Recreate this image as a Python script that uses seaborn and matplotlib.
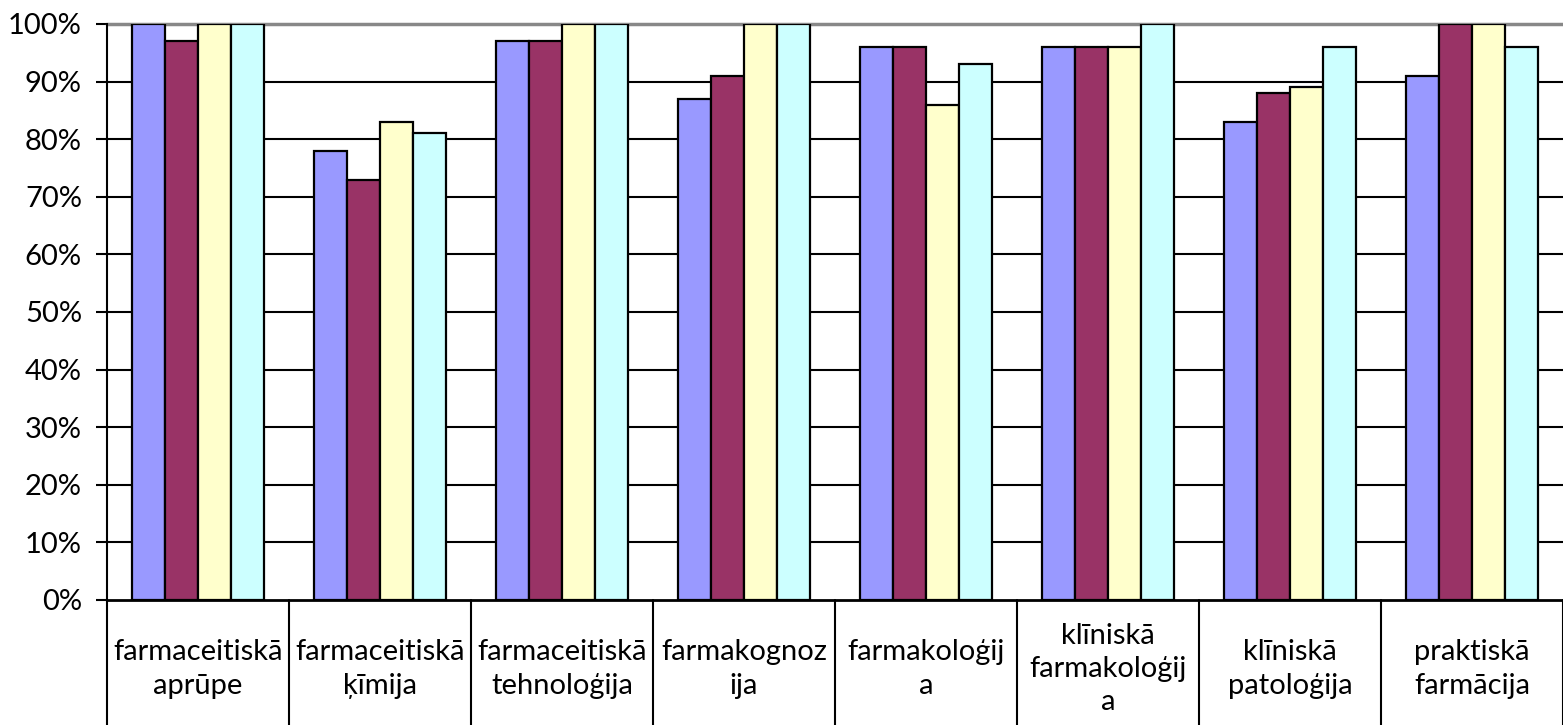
import matplotlib
matplotlib.use("Agg")
import matplotlib.pyplot as plt
import matplotlib.transforms as mtransforms
import seaborn as sns
import numpy as np
import pandas as pd

sns.set_theme(style="white")
plt.rcParams['font.family'] = ['Lato', 'DejaVu Sans']

# Dati
kategorijas = [
    "farmaceitiskā\naprūpe",
    "farmaceitiskā\nķīmija",
    "farmaceitiskā\ntehnoloģija",
    "farmakognoz\nija",
    "farmakoloģij\na",
    "klīniskā\nfarmakoloģij\na",
    "klīniskā\npatoloģija",
    "praktiskā\nfarmācija",
]
serijas = ["1", "2", "3", "4"]
s1 = [100, 78, 97, 87, 96, 96, 83, 91]
s2 = [97, 73, 97, 91, 96, 96, 88, 100]
s3 = [100, 83, 100, 100, 86, 96, 89, 100]
s4 = [100, 81, 100, 100, 93, 100, 96, 96]
krasas = ["#9999FF", "#993366", "#FFFFCC", "#CCFFFF"]

df = pd.DataFrame({
    "kategorija": np.tile(kategorijas, 4),
    "serija": np.repeat(serijas, len(kategorijas)),
    "vertiba": np.array(s1 + s2 + s3 + s4) / 100.0,
})

fig = plt.figure(figsize=(15.63, 7.25), dpi=100)
ax = fig.add_axes([107 / 1563, 125 / 725, 1 - 107 / 1563, 576 / 725])

sns.barplot(
    data=df, x="kategorija", y="vertiba", hue="serija",
    order=kategorijas, hue_order=serijas, palette=krasas, saturation=1,
    width=0.73, gap=0, edgecolor="black", linewidth=1.6,
    legend=False, ax=ax, zorder=3,
)

ax.set_ylim(0, 1)
ax.set_xlim(-0.5, len(kategorijas) - 0.5)
ax.set_yticks(np.arange(0, 1.01, 0.1))
ax.set_yticklabels([f"{int(round(v * 100))}%" for v in np.arange(0, 1.01, 0.1)])
ax.tick_params(axis="y", which="both", left=True, length=8, width=1.5,
               color="black", labelsize=21, pad=10, labelcolor="black")
ax.tick_params(axis="x", bottom=False, labelbottom=False)
ax.set_xlabel("")
ax.set_ylabel("")

# horizontālās režģa līnijas
for v in np.arange(0.1, 0.95, 0.1):
    ax.axhline(v, color="black", lw=1.5, zorder=1)
ax.axhline(1.0, color="#888888", lw=2.5, zorder=1, clip_on=False)

for side in ["top", "right"]:
    ax.spines[side].set_visible(False)
ax.spines["left"].set_color("black")
ax.spines["left"].set_linewidth(1.5)
ax.spines["bottom"].set_color("black")
ax.spines["bottom"].set_linewidth(2)

# kategoriju tabulas atdalītāji un teksti
trans = mtransforms.blended_transform_factory(ax.transData, ax.transAxes)
for i in range(len(kategorijas) + 1):
    ax.plot([i - 0.5, i - 0.5], [0, -0.3], transform=trans, color="black",
            lw=1.5, clip_on=False)
for i, nos in enumerate(kategorijas):
    ax.text(i, -0.12, nos, transform=trans, ha="center", va="center",
            fontsize=21, linespacing=1.35, color="black")

fig.savefig("out.png", dpi=100)
